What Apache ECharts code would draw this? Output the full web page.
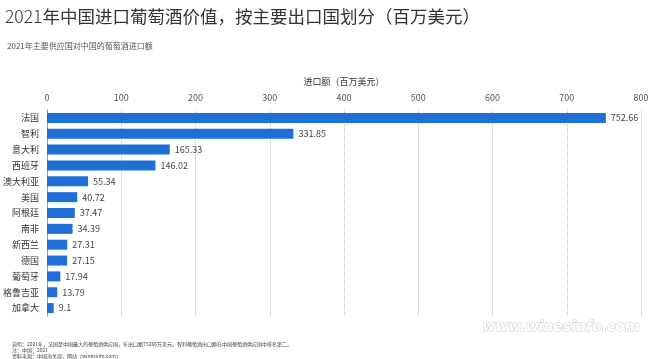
<!DOCTYPE html>
<html><head><meta charset="utf-8">
<script src="https://cdn.jsdelivr.net/npm/echarts@6/dist/echarts.min.js"></script>
<style>html,body{margin:0;padding:0;background:#fff}#c{width:660px;height:359px}</style>
</head><body><div id="c"></div>
<script>
const categories = ['法国','智利','意大利','西班牙','澳大利亚','美国','阿根廷','南非','新西兰','德国','葡萄牙','格鲁吉亚','加拿大'];
const values = [752.66,331.85,165.33,146.02,55.34,40.72,37.47,34.39,27.31,27.15,17.94,13.79,9.1];
const titleMain = '2021年中国进口葡萄酒价值，按主要出口国划分（百万美元）';
const subTitle = '2021年主要供应国对中国的葡萄酒进口额';
const axisName = '进口额（百万美元）';
const notes = ['说明：2021年，法国是中国最大的葡萄酒供应国，年出口额75266万美元。智利葡萄酒出口额在中国葡萄酒供应国中排名第二。','注：中国；2021','资料来源：中国海关部，网站（winesinfo.com）'];
const font = '"Noto Sans CJK SC","Noto Sans",sans-serif';
const chart = echarts.init(document.getElementById('c'));
chart.setOption({
  animation:false,
  textStyle:{fontFamily:font},
  title:[
    {text:'{a|2021}{b|年中国进口葡萄酒价值，按主要出口国划分（百万美元）}',left:0,top:3,
     textStyle:{rich:{a:{fontSize:17.5,fontWeight:300,color:'#333',fontFamily:font},b:{fontSize:17.5,fontWeight:'normal',color:'#333',fontFamily:font}}}},
    {text:subTitle,left:2,top:37,textStyle:{fontSize:8,fontWeight:'normal',color:'#555'}},
    {text:notes[0]+'\n'+notes[1]+'\n'+notes[2],left:7,top:336,textStyle:{fontSize:5,lineHeight:6,fontWeight:'normal',color:'#444'}}
  ],
  graphic:[{type:'text',right:20,top:320,style:{text:'www.winesinfo.com',font:'bold italic 14px "DejaVu Sans"',fill:'#fff',stroke:'#ccc',lineWidth:1}}],
  grid:{left:46,right:19,top:110,bottom:43},
  xAxis:{type:'value',position:'top',min:0,max:800,interval:100,
    name:axisName,nameLocation:'middle',nameGap:24,nameTextStyle:{fontSize:9,color:'#333'},
    axisLabel:{fontSize:9,color:'#555',margin:8},
    axisLine:{show:false},axisTick:{show:false},
    splitLine:{lineStyle:{type:'dotted',color:'#bbb'}}},
  yAxis:{type:'category',data:categories,inverse:true,
    axisLine:{lineStyle:{color:'#999'}},axisTick:{show:false},
    axisLabel:{fontSize:9,color:'#333',margin:8}},
  series:[{type:'bar',data:values,barWidth:10,itemStyle:{color:'#1f6fd8'},
    label:{show:true,position:'right',fontSize:9,color:'#444',distance:5}}]
});
</script></body></html>
